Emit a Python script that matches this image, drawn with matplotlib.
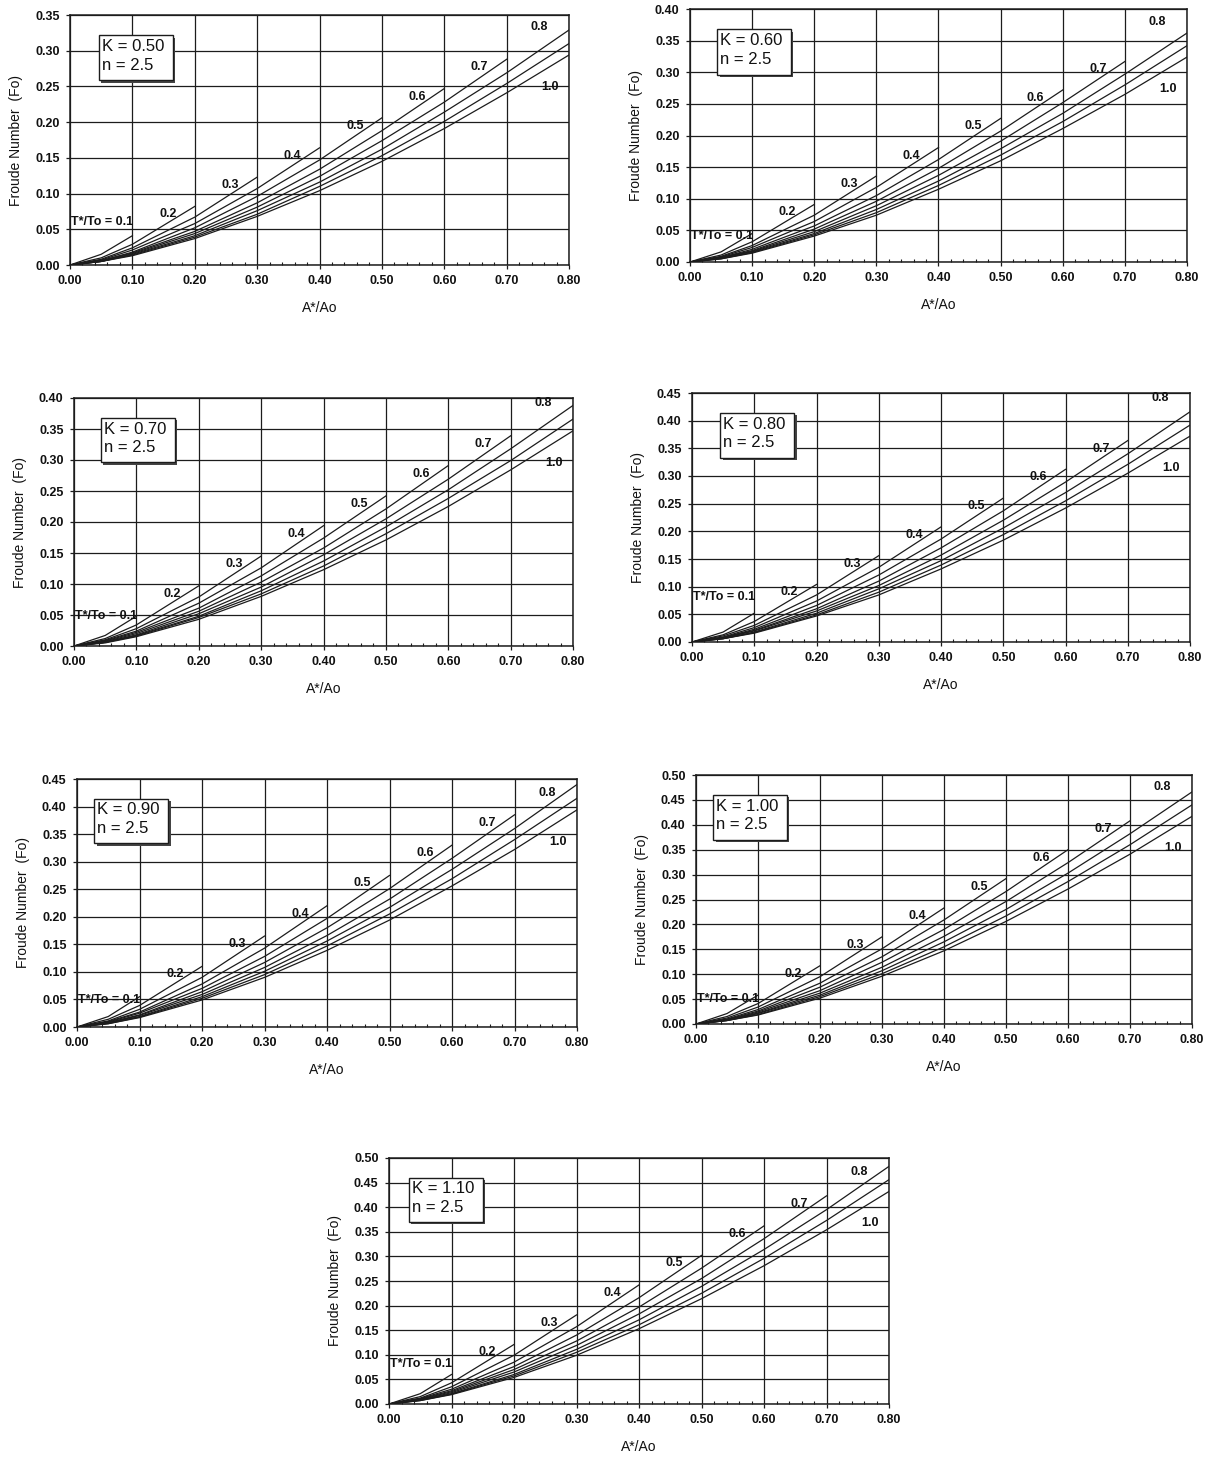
import numpy as np
import matplotlib.pyplot as plt
from matplotlib.patches import Rectangle
from matplotlib.ticker import MultipleLocator, FormatStrFormatter

plt.rcParams['font.family'] = ['Liberation Sans', 'DejaVu Sans']

# ---------------- DATA ----------------
a_ratio = [0.0, 0.05, 0.1, 0.2, 0.3, 0.4, 0.5, 0.6, 0.7, 0.8]  # A*/Ao
t_ratio = [0.1, 0.2, 0.3, 0.4, 0.5, 0.6, 0.7, 0.8, 0.9, 1.0]  # T*/To
t_labels = ["T*/To = 0.1", "0.2", "0.3", "0.4", "0.5", "0.6", "0.7", "0.8", "", "1.0"]
k_labels = ["0.50", "0.60", "0.70", "0.80", "0.90", "1.00", "1.10"]
n_label = "2.5"
y_max = [0.35, 0.40, 0.40, 0.45, 0.45, 0.50, 0.50]

# Froude number Fo, one row per T*/To curve (row j ends at A*/Ao = T*/To)
fo_k050 = [
    [0, 0.015, 0.041],
    [0, 0.010, 0.029, 0.082],
    [0, 0.008, 0.024, 0.067, 0.123],
    [0, 0.007, 0.021, 0.058, 0.107, 0.164],
    [0, 0.006, 0.018, 0.052, 0.096, 0.147, 0.206],
    [0, 0.006, 0.017, 0.047, 0.087, 0.134, 0.188, 0.247],
    [0, 0.005, 0.016, 0.044, 0.081, 0.124, 0.174, 0.228, 0.288],
    [0, 0.005, 0.015, 0.041, 0.076, 0.116, 0.162, 0.214, 0.269, 0.329],
    [0, 0.005, 0.014, 0.039, 0.071, 0.110, 0.153, 0.201, 0.254, 0.310],
    [0, 0.005, 0.013, 0.037, 0.068, 0.104, 0.145, 0.191, 0.241, 0.294],
]
fo_k060 = [
    [0, 0.016, 0.045],
    [0, 0.011, 0.032, 0.091],
    [0, 0.009, 0.026, 0.074, 0.136],
    [0, 0.008, 0.023, 0.064, 0.118, 0.181],
    [0, 0.007, 0.020, 0.057, 0.105, 0.162, 0.227],
    [0, 0.007, 0.018, 0.052, 0.096, 0.148, 0.207, 0.272],
    [0, 0.006, 0.017, 0.048, 0.089, 0.137, 0.191, 0.252, 0.317],
    [0, 0.006, 0.016, 0.045, 0.083, 0.128, 0.179, 0.235, 0.297, 0.362],
    [0, 0.005, 0.015, 0.043, 0.078, 0.121, 0.169, 0.222, 0.280, 0.342],
    [0, 0.005, 0.014, 0.041, 0.074, 0.115, 0.160, 0.211, 0.265, 0.324],
]
fo_k070 = [
    [0, 0.017, 0.048],
    [0, 0.012, 0.034, 0.097],
    [0, 0.010, 0.028, 0.079, 0.145],
    [0, 0.009, 0.024, 0.069, 0.126, 0.194],
    [0, 0.008, 0.022, 0.061, 0.113, 0.174, 0.242],
    [0, 0.007, 0.020, 0.056, 0.103, 0.158, 0.221, 0.291],
    [0, 0.006, 0.018, 0.052, 0.095, 0.147, 0.205, 0.269, 0.339],
    [0, 0.006, 0.017, 0.048, 0.089, 0.137, 0.192, 0.252, 0.318, 0.388],
    [0, 0.006, 0.016, 0.046, 0.084, 0.129, 0.181, 0.238, 0.299, 0.366],
    [0, 0.005, 0.015, 0.043, 0.080, 0.123, 0.171, 0.225, 0.284, 0.347],
]
fo_k080 = [
    [0, 0.018, 0.052],
    [0, 0.013, 0.037, 0.104],
    [0, 0.011, 0.030, 0.085, 0.156],
    [0, 0.009, 0.026, 0.074, 0.135, 0.208],
    [0, 0.008, 0.023, 0.066, 0.121, 0.186, 0.260],
    [0, 0.008, 0.021, 0.060, 0.110, 0.170, 0.237, 0.312],
    [0, 0.007, 0.020, 0.056, 0.102, 0.157, 0.220, 0.289, 0.364],
    [0, 0.006, 0.018, 0.052, 0.096, 0.147, 0.206, 0.270, 0.340, 0.416],
    [0, 0.006, 0.017, 0.049, 0.090, 0.139, 0.194, 0.255, 0.321, 0.392],
    [0, 0.006, 0.016, 0.047, 0.085, 0.132, 0.184, 0.242, 0.305, 0.372],
]
fo_k090 = [
    [0, 0.019, 0.055],
    [0, 0.014, 0.039, 0.110],
    [0, 0.011, 0.032, 0.090, 0.165],
    [0, 0.010, 0.027, 0.078, 0.143, 0.220],
    [0, 0.009, 0.025, 0.070, 0.128, 0.197, 0.275],
    [0, 0.008, 0.022, 0.064, 0.117, 0.180, 0.251, 0.330],
    [0, 0.007, 0.021, 0.059, 0.108, 0.166, 0.232, 0.306, 0.385],
    [0, 0.007, 0.019, 0.055, 0.101, 0.156, 0.217, 0.286, 0.360, 0.440],
    [0, 0.006, 0.018, 0.052, 0.095, 0.147, 0.205, 0.269, 0.340, 0.415],
    [0, 0.006, 0.017, 0.049, 0.090, 0.139, 0.194, 0.256, 0.322, 0.394],
]
fo_k100 = [
    [0, 0.021, 0.058],
    [0, 0.015, 0.041, 0.117],
    [0, 0.012, 0.034, 0.095, 0.175],
    [0, 0.010, 0.029, 0.082, 0.151, 0.233],
    [0, 0.009, 0.026, 0.074, 0.135, 0.209, 0.292],
    [0, 0.008, 0.024, 0.067, 0.124, 0.190, 0.266, 0.350],
    [0, 0.008, 0.022, 0.062, 0.114, 0.176, 0.246, 0.324, 0.408],
    [0, 0.007, 0.021, 0.058, 0.107, 0.165, 0.230, 0.303, 0.382, 0.466],
    [0, 0.007, 0.019, 0.055, 0.101, 0.155, 0.217, 0.286, 0.360, 0.440],
    [0, 0.007, 0.018, 0.052, 0.096, 0.147, 0.206, 0.271, 0.341, 0.417],
]
fo_k110 = [
    [0, 0.021, 0.060],
    [0, 0.015, 0.043, 0.121],
    [0, 0.012, 0.035, 0.099, 0.181],
    [0, 0.011, 0.030, 0.085, 0.157, 0.242],
    [0, 0.010, 0.027, 0.076, 0.140, 0.216, 0.302],
    [0, 0.009, 0.025, 0.070, 0.128, 0.197, 0.276, 0.362],
    [0, 0.008, 0.023, 0.065, 0.119, 0.183, 0.255, 0.336, 0.423],
    [0, 0.008, 0.021, 0.060, 0.111, 0.171, 0.239, 0.314, 0.395, 0.483],
    [0, 0.007, 0.020, 0.057, 0.105, 0.161, 0.225, 0.296, 0.373, 0.456],
    [0, 0.007, 0.019, 0.054, 0.099, 0.153, 0.214, 0.281, 0.354, 0.432],
]
fo_charts = [fo_k050, fo_k060, fo_k070, fo_k080, fo_k090, fo_k100, fo_k110]

# ---------------- LAYOUT (pixels on the 1217x1459 page) ----------------
W, H = 1217, 1459
ax_px = [(70, 15, 569, 265), (690, 9, 1187, 262),
         (74, 398, 573, 646), (692, 393, 1190, 642),
         (77, 779, 577, 1027), (696, 775, 1192, 1024),
         (389, 1158, 889, 1404)]
box_left = [0.058, 0.055, 0.054, 0.057, 0.034, 0.035, 0.039]
t01_dy = [14, -2, 0, 16, -3, -4, 10]   # px offset of "T*/To = 0.1" label
t08_dy = [3, 11, 2, 14, -8, 5, -6]     # px offset of "0.8" label
ink = "#1c1c1c"
PT = 0.72  # points per pixel at dpi 100

fig = plt.figure(figsize=(W / 100, H / 100), dpi=100)
fig.patch.set_facecolor("white")

for i, fo in enumerate(fo_charts):
    l, t, r, b = ax_px[i]
    wpx, hpx = r - l, b - t
    ax = fig.add_axes([l / W, 1 - b / H, wpx / W, hpx / H])

    for j, vals in enumerate(fo):
        ax.plot(a_ratio[:len(vals)], vals, color=ink, lw=0.9, zorder=3)

    ax.set_xlim(0, 0.8)
    ax.set_ylim(0, y_max[i])
    ax.xaxis.set_major_locator(MultipleLocator(0.1))
    ax.xaxis.set_minor_locator(MultipleLocator(0.02))
    ax.yaxis.set_major_locator(MultipleLocator(0.05))
    ax.xaxis.set_major_formatter(FormatStrFormatter("%.2f"))
    ax.yaxis.set_major_formatter(FormatStrFormatter("%.2f"))
    ax.grid(True, which="major", color=ink, lw=0.9, zorder=1)
    ax.set_axisbelow(True)
    for s in ax.spines.values():
        s.set_color(ink)
        s.set_linewidth(1.1)
    ax.tick_params(which="major", direction="out", length=3, width=0.9,
                   colors=ink, labelsize=9, pad=4.5)
    ax.tick_params(axis="x", which="minor", direction="in", length=2.5,
                   width=0.8, colors=ink)
    ax.tick_params(axis="y", which="minor", left=False)
    for lab in ax.get_xticklabels() + ax.get_yticklabels():
        lab.set_fontweight("bold")
        lab.set_color("#111111")

    # curve labels
    for j, vals in enumerate(fo):
        if not t_labels[j]:
            continue
        x_end, y_end = a_ratio[len(vals) - 1], vals[-1]
        ha = "center"
        if j == 0:
            dx, dy, ha = 1, t01_dy[i], "right"
        elif j == 9:
            dx, dy = -19, -32
        elif j == 7:
            dx, dy = -30, t08_dy[i]
        else:
            dx, dy = -27, -8
        ax.annotate(t_labels[j], (x_end, y_end), xytext=(dx * PT, dy * PT),
                    textcoords="offset points", ha=ha, va="center",
                    fontsize=9, fontweight="bold", color="#111111", zorder=4)

    # K / n box with shadow
    bx, by, bw, bh = box_left[i], 0.74, 0.148, 0.18
    ax.add_patch(Rectangle((bx + 2.5 / wpx, by - 2.5 / hpx), bw, bh,
                           transform=ax.transAxes, fc="#444444", ec="none", zorder=5))
    ax.add_patch(Rectangle((bx, by), bw, bh, transform=ax.transAxes,
                           fc="white", ec=ink, lw=1.0, zorder=6))
    ax.text(bx + 3 / wpx, by + bh * 0.75, f"K = {k_labels[i]}", transform=ax.transAxes,
            fontsize=12, va="center", ha="left", color="#111111", zorder=7)
    ax.text(bx + 3 / wpx, by + bh * 0.33, f"n = {n_label}", transform=ax.transAxes,
            fontsize=12, va="center", ha="left", color="#111111", zorder=7)

    # axis titles
    ax.text(-54 / wpx, 0.5, "Froude Number  (Fo)", transform=ax.transAxes,
            rotation=90, ha="center", va="center", fontsize=10, color="#111111")
    ax.text(0.5, -43 / hpx, "A*/Ao", transform=ax.transAxes,
            ha="center", va="center", fontsize=10, color="#111111")

fig.savefig("out.png", dpi=100)
